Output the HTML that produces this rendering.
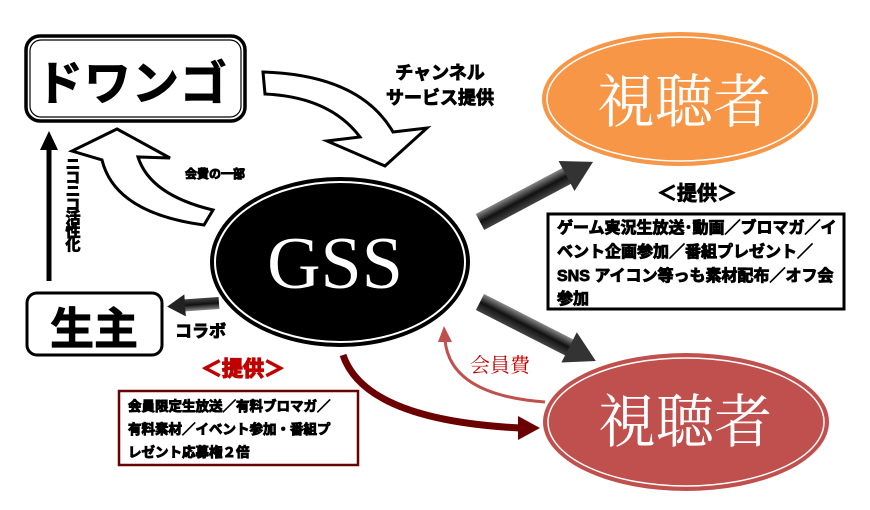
<!DOCTYPE html>
<html><head><meta charset="utf-8"><style>
html,body{margin:0;padding:0;background:#fff;width:870px;height:510px;overflow:hidden}
svg{display:block}
.b{font-family:"Liberation Sans","Noto Sans CJK JP",sans-serif;font-weight:bold;fill:#000;stroke:#000;stroke-width:0.9}
.serif{font-family:"Liberation Serif","DejaVu Serif","Noto Serif CJK SC",serif}
</style></head><body>
<svg width="870" height="510" viewBox="0 0 870 510" xmlns="http://www.w3.org/2000/svg">
<defs>
<linearGradient id="g1" x1="0" y1="0" x2="0" y2="1">
<stop offset="0" stop-color="#888"/><stop offset="0.5" stop-color="#111"/><stop offset="1" stop-color="#444"/></linearGradient>
</defs>
<rect x="26" y="36" width="219" height="85" rx="14" fill="#fff" stroke="#000" stroke-width="3.5"/>
<rect x="30" y="40" width="211" height="77" rx="11" fill="none" stroke="#000" stroke-width="1.2"/>
<text x="132" y="100" text-anchor="middle" class="b" font-size="47" stroke-width="3" letter-spacing="1">ドワンゴ</text>
<rect x="27" y="293" width="135" height="62" rx="10" fill="#fff" stroke="#000" stroke-width="3"/>
<text x="94" y="344" text-anchor="middle" class="b" font-size="44" stroke-width="3">生主</text>
<line x1="49" y1="281" x2="49" y2="150" stroke="#000" stroke-width="5"/>
<polygon points="40,150 58,150 49,131" fill="#000"/>
<text class="b" font-size="15" style="writing-mode:vertical-rl;text-orientation:upright" x="72" y="156" letter-spacing="-1.5" stroke-width="1">ニコニコ活性化</text>
<path d="M263,72 Q360,75 393,132 L427,128 L385,166 L327,141 L360,137 Q330,97 265,94 Z" fill="#fff" stroke="#000" stroke-width="3"/>
<path d="M213,210 Q150,195 138,157 L170,158 L117,129 L72,151 L102,160 Q115,213 204,225 Z" fill="#fff" stroke="#000" stroke-width="3"/>
<text x="185" y="178" class="b" font-size="12" stroke-width="0.7">会費の一部</text>
<text x="440" y="79" text-anchor="middle" class="b" font-size="18" stroke-width="1.1">チャンネル</text>
<text x="440" y="104" text-anchor="middle" class="b" font-size="18" stroke-width="1.1">サービス提供</text>
<path d="M343,355 Q365,420 520,428" fill="none" stroke="#6b0000" stroke-width="7"/>
<polygon points="518,416 540,428 518,440" fill="#6b0000"/>
<path d="M545,402 Q450,395 445,340" fill="none" stroke="#c0504d" stroke-width="3"/>
<polygon points="438,342 452,342 444,326" fill="#c0504d"/>
<text x="470" y="372" class="serif" font-size="20" fill="#c00000">会員費</text>
<ellipse cx="340" cy="262" rx="130" ry="85" fill="#000"/>
<ellipse cx="340" cy="262" rx="125" ry="80" fill="none" stroke="#fff" stroke-width="2"/>
<text x="335" y="288" text-anchor="middle" class="serif" style="font-family:'Liberation Serif','DejaVu Serif',serif;font-size:74px" fill="#fff">GSS</text>
<g transform="translate(480,222) rotate(-28)">
<rect x="0" y="-9" width="100" height="18" fill="url(#g1)"/>
<polygon points="98,-17 128,0 98,17" fill="#333"/>
</g>
<g transform="translate(480,302) rotate(27)">
<rect x="0" y="-9" width="103" height="18" fill="url(#g1)"/>
<polygon points="100,-17 130,0 100,17" fill="#333"/>
</g>
<g transform="translate(219,303) rotate(176)">
<rect x="0" y="-6" width="36" height="12" fill="url(#g1)"/>
<polygon points="34,-11 52,0 34,11" fill="#222"/>
</g>
<text x="175" y="337" class="b" font-size="17" stroke-width="1.1">コラボ</text>
<ellipse cx="680" cy="99" rx="138" ry="67" fill="#f79646"/>
<ellipse cx="680" cy="99" rx="133" ry="62" fill="none" stroke="#fff" stroke-width="1.5"/>
<text x="684" y="122" text-anchor="middle" style="font-family:'Noto Serif CJK SC',serif" font-size="58" fill="#fff">視聴者</text>
<ellipse cx="686" cy="422" rx="143" ry="69" fill="#c0504d"/>
<ellipse cx="686" cy="422" rx="138" ry="64" fill="none" stroke="#fff" stroke-width="1.5"/>
<text x="685" y="442" text-anchor="middle" style="font-family:'Noto Serif CJK SC',serif" font-size="58" fill="#fff">視聴者</text>
<text x="697" y="200" text-anchor="middle" class="b" font-size="20" stroke-width="1.3">＜提供＞</text>
<rect x="548" y="214" width="296" height="95" fill="#fff" stroke="#000" stroke-width="3"/>
<g class="b" font-size="16" stroke-width="0.9">
<text x="557" y="233">ゲーム実況生放送･動画／ブロマガ／イ</text>
<text x="557" y="257">ベント企画参加／番組プレゼント／</text>
<text x="557" y="281">SNS アイコン等っも素材配布／オフ会</text>
<text x="557" y="304">参加</text>
</g>
<text x="243" y="376" text-anchor="middle" font-family="'Liberation Sans','Noto Sans CJK JP',sans-serif" font-weight="bold" font-size="21" fill="#c00000" stroke="#c00000" stroke-width="1.3">＜提供＞</text>
<rect x="119" y="391" width="239" height="74" fill="#fff" stroke="#6b0000" stroke-width="2.5"/>
<g class="b" font-size="13.5" stroke-width="0.8">
<text x="128" y="411">会員限定生放送／有料ブロマガ／</text>
<text x="128" y="434">有料素材／イベント参加・番組プ</text>
<text x="128" y="457">レゼント応募権２倍</text>
</g>
</svg>
</body></html>
